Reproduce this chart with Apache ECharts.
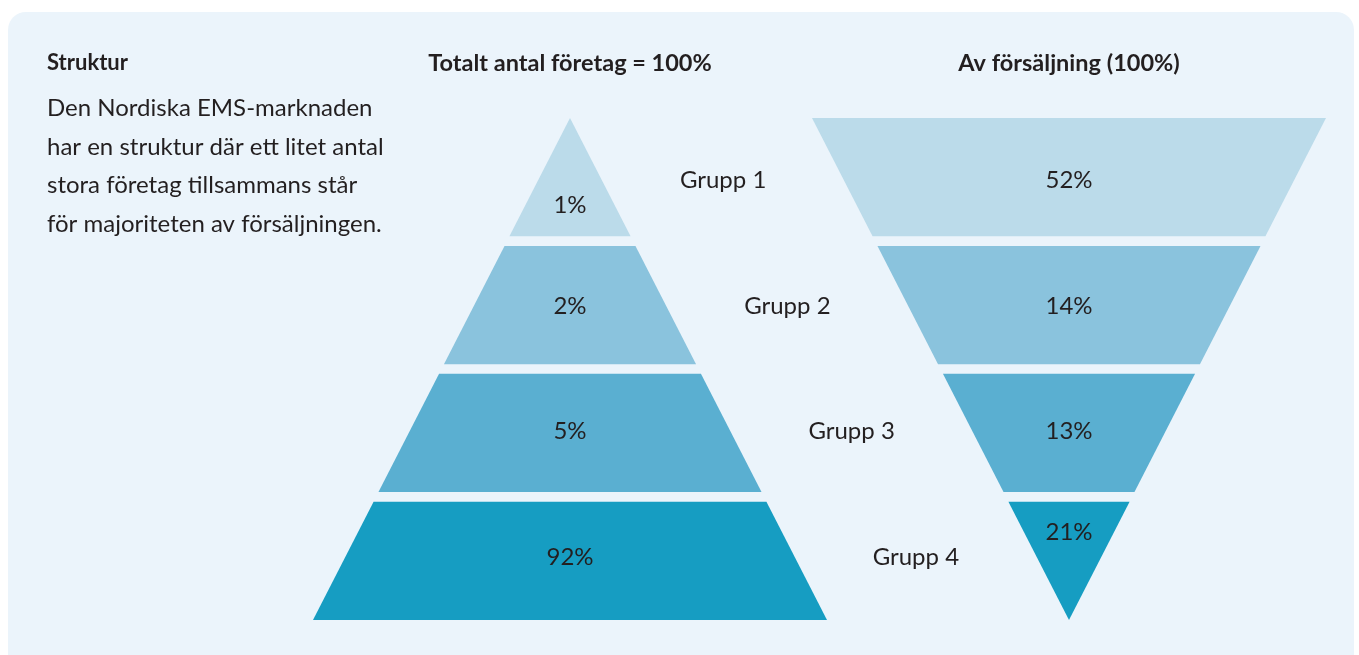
<!DOCTYPE html>
<html>
<head>
<meta charset="utf-8">
<script src="https://cdn.jsdelivr.net/npm/echarts@6/dist/echarts.min.js"></script>
<style>
  html, body { margin: 0; padding: 0; background: #ffffff; }
  #chart { width: 1359px; height: 655px; }
</style>
</head>
<body>
<div id="chart"></div>
<script>
// data
const groups = ['Grupp 1', 'Grupp 2', 'Grupp 3', 'Grupp 4'];
const companyShare = [1, 2, 5, 92];   // andel av antal företag, %
const salesShare = [52, 14, 13, 21];  // andel av försäljningen, %
const bandColors = ['#BBDBEA', '#8AC3DD', '#5AAFD1', '#169DC2'];

const introTitle = 'Struktur';
const introLines = [
  'Den Nordiska EMS-marknaden',
  'har en struktur där ett litet antal',
  'stora företag tillsammans står',
  'för majoriteten av försäljningen.'
];
const leftTitle = 'Totalt antal företag = 100%';
const rightTitle = 'Av försäljning (100%)';

// layout of the bands (shares of total height, half-base units)
const GAP = 0.019;
const BAND = (1 - 3 * GAP) / 4;
const OFFSET = 1.9416; // centre of funnel relative to centre of pyramid
const TIP_SHIFT = 0.049; // labels in the pointed bands move toward the wide side
const TEXT = '#231F20';
const FONT = 'Lato';

// labels sit on equal quarters of the total height
const labelLevel = i => (i + 0.5) / 4;

function bandRender(inverted, centre) {
  return function (params, api) {
    const i = params.dataIndex;
    const t0 = i * (BAND + GAP);
    const t1 = t0 + BAND;
    const w0 = inverted ? 1 - t0 : t0;
    const w1 = inverted ? 1 - t1 : t1;
    const pts = [
      [centre - w0, t0], [centre + w0, t0],
      [centre + w1, t1], [centre - w1, t1]
    ].map(p => api.coord(p));
    let tl = labelLevel(i);
    if (!inverted && i === 0) tl += TIP_SHIFT;
    if (inverted && i === 3) tl -= TIP_SHIFT;
    const lp = api.coord([centre, tl]);
    return {
      type: 'group',
      children: [
        { type: 'polygon', shape: { points: pts }, style: { fill: bandColors[i] } },
        {
          type: 'text',
          style: {
            text: api.value(1) + '%', x: lp[0], y: lp[1],
            align: 'center', verticalAlign: 'middle',
            fill: TEXT, font: '24px ' + FONT
          }
        }
      ]
    };
  };
}

function groupRender(params, api) {
  const i = params.dataIndex;
  const tc = labelLevel(i);
  // halfway between the pyramid's right edge and the funnel's left edge
  const p = api.coord([tc + (OFFSET - 1) / 2, tc]);
  return {
    type: 'text',
    style: {
      text: groups[i], x: p[0], y: p[1],
      align: 'center', verticalAlign: 'middle',
      fill: TEXT, font: '24px ' + FONT
    }
  };
}

const chart = echarts.init(document.getElementById('chart'));

const option = {
  animation: false,
  backgroundColor: '#ffffff',
  graphic: [
    {
      type: 'rect', z: -10,
      shape: { x: 8, y: 12, width: 1346, height: 680, r: 18 },
      style: { fill: '#EBF4FB' }
    },
    {
      type: 'text', x: 47, y: 63,
      style: { text: introTitle, font: 'bold 22px ' + FONT, fill: TEXT, verticalAlign: 'middle' }
    },
    {
      type: 'text', x: 47, y: 89,
      style: { text: introLines.join('\n'), font: '24px ' + FONT, lineHeight: 38.7, fill: TEXT, verticalAlign: 'top' }
    },
    {
      type: 'text', x: 570, y: 63,
      style: { text: leftTitle, font: 'bold 23.5px ' + FONT, fill: TEXT, align: 'center', verticalAlign: 'middle' }
    },
    {
      type: 'text', x: 1069, y: 63,
      style: { text: rightTitle, font: 'bold 23.5px ' + FONT, fill: TEXT, align: 'center', verticalAlign: 'middle' }
    }
  ],
  grid: { left: 313, right: 33, top: 118, bottom: 35 },
  xAxis: { type: 'value', min: -1, max: OFFSET + 1, show: false },
  yAxis: { type: 'value', min: 0, max: 1, inverse: true, show: false },
  series: [
    {
      type: 'custom', name: leftTitle,
      data: companyShare.map((v, i) => [i, v]),
      renderItem: bandRender(false, 0)
    },
    {
      type: 'custom', name: rightTitle,
      data: salesShare.map((v, i) => [i, v]),
      renderItem: bandRender(true, OFFSET)
    },
    {
      type: 'custom', name: 'Grupper',
      data: groups.map((g, i) => [i, i]),
      renderItem: groupRender
    }
  ]
};

chart.setOption(option);
window.addEventListener('resize', () => chart.resize());
</script>
</body>
</html>
